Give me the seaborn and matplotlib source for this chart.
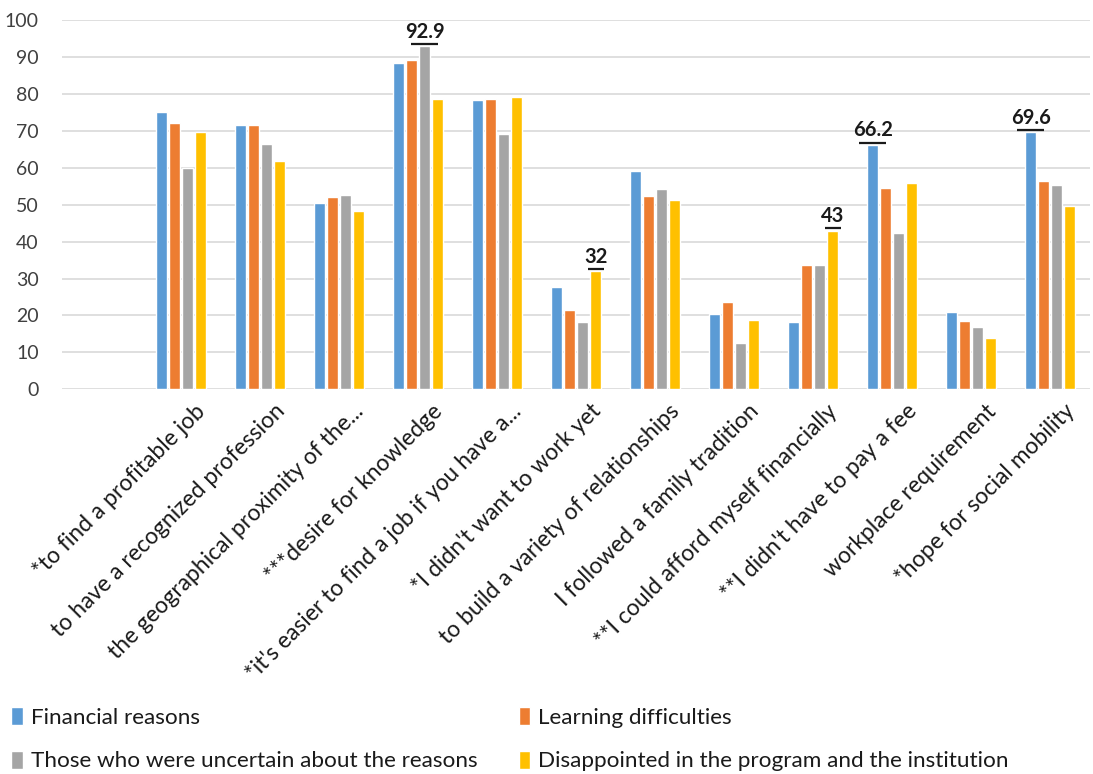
import matplotlib
matplotlib.use("Agg")
import matplotlib.pyplot as plt
import seaborn as sns
import pandas as pd
from matplotlib.transforms import ScaledTranslation

categories = [
    "*to find a profitable job",
    "to have a recognized profession",
    "the geographical proximity of the...",
    "***desire for knowledge",
    "*it's easier to find a job if you have a...",
    "*I didn't want to work yet",
    "to build a variety of relationships",
    "I followed a family tradition",
    "**I could afford myself financially",
    "**I didn't have to pay a fee",
    "workplace requirement",
    "*hope for social mobility",
]
series_names = [
    "Financial reasons",
    "Learning difficulties",
    "Those who were uncertain about the reasons",
    "Disappointed in the program and the institution",
]
financial = [75.0, 71.6, 50.5, 88.4, 78.3, 27.8, 59.0, 20.5, 18.1, 66.2, 20.9, 69.6]
learning = [72.0, 71.6, 52.1, 89.1, 78.6, 21.5, 52.4, 23.6, 33.7, 54.5, 18.4, 56.3]
uncertain = [59.9, 66.4, 52.5, 92.9, 69.2, 18.1, 54.2, 12.5, 33.7, 42.4, 17.0, 55.3]
disappointed = [69.6, 61.8, 48.3, 78.6, 79.2, 32.0, 51.4, 18.7, 43.0, 55.9, 13.8, 49.7]
colors = ["#5B9BD5", "#ED7D31", "#A5A5A5", "#FFC000"]
# highlighted values: (series index, category index, label)
highlights = [(2, 3, "92.9"), (3, 5, "32"), (3, 8, "43"), (0, 9, "66.2"), (0, 11, "69.6")]

rows = []
for name, vals in zip(series_names, [financial, learning, uncertain, disappointed]):
    for c, v in zip(categories, vals):
        rows.append({"category": c, "series": name, "value": v})
df = pd.DataFrame(rows)

sns.set_theme(style="white")
plt.rcParams["font.family"] = ["Lato", "DejaVu Sans"]

fig = plt.figure(figsize=(10.93, 7.74), dpi=100)
ax = fig.add_axes([0.057, 0.497, 0.940, 0.477])

sns.barplot(data=df, x="category", y="value", hue="series", order=categories,
            hue_order=series_names, palette=colors, width=0.66, gap=0.15,
            saturation=1, ax=ax, legend=True, zorder=3)

ax.set_xlim(-1.5, len(categories) - 0.5)
ax.set_ylim(0, 100)
ax.set_yticks(range(0, 101, 10))
ax.yaxis.grid(True, color="#D9D9D9", linewidth=1.2, zorder=0)
ax.set_axisbelow(True)
for s in ax.spines.values():
    s.set_visible(False)
ax.set_xlabel("")
ax.set_ylabel("")
ax.tick_params(axis="y", labelsize=14, colors="#404040", length=0, pad=17)
ax.tick_params(axis="x", length=0, pad=8)
ax.set_xticks(range(len(categories)))
ax.set_xticklabels(categories, rotation=45, ha="right", rotation_mode="anchor",
                   fontsize=16.5, color="#1a1a1a")
off = ScaledTranslation(10 / 72, 0, fig.dpi_scale_trans)
for lab in ax.get_xticklabels():
    lab.set_transform(lab.get_transform() + off)

# highlighted labels with underline
containers = ax.containers
for si, ci, txt in highlights:
    bar = containers[si][ci]
    cx = bar.get_x() + bar.get_width() / 2
    top = bar.get_height()
    ax.text(cx, top + 1.2, txt, ha="center", va="bottom", fontsize=14.5,
            fontweight="bold", color="#1a1a1a", zorder=5)
    half = 0.036 * len(txt) + 0.03
    ax.plot([cx - half, cx + half], [top + 0.6, top + 0.6], color="#1a1a1a",
            linewidth=1.6, zorder=5, solid_capstyle="butt")

ax.get_legend().remove()
handles, labels = ax.get_legend_handles_labels()
order = [0, 2, 1, 3]
fig.legend([handles[i] for i in order], [labels[i] for i in order],
           loc="lower left", bbox_to_anchor=(-0.004, -0.017),
           ncol=2, frameon=False, fontsize=16.2, handlelength=0.5, handleheight=0.85,
           handletextpad=0.35, columnspacing=1.85, labelspacing=1.0,
           borderaxespad=0.3, labelcolor="#1a1a1a")

fig.savefig("out.png", dpi=100)
